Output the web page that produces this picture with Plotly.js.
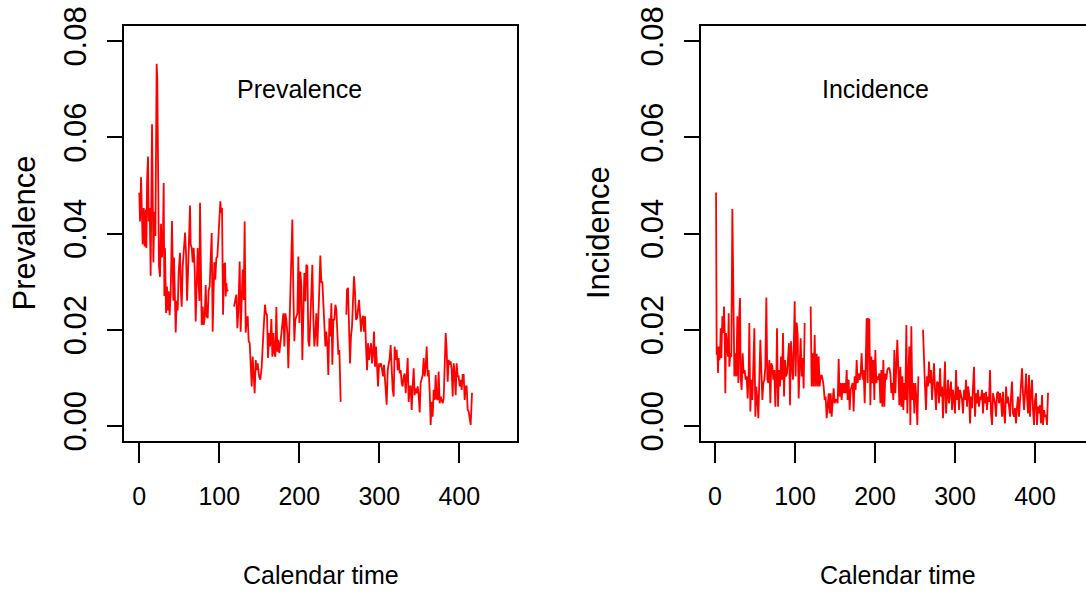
<!DOCTYPE html>
<html>
<head>
<meta charset="utf-8">
<script src="https://cdn.plot.ly/plotly-3.0.1.min.js"></script>
<style>
  html, body { margin: 0; padding: 0; background: #ffffff; }
  #chart { width: 1086px; height: 596px; }
</style>
</head>
<body>
<div id="chart"></div>
<script>
// ---- data ----
const xTicks = [0, 100, 200, 300, 400];
const yTicks = [0, 0.02, 0.04, 0.06, 0.08];
const yTickLabels = ["0.00", "0.02", "0.04", "0.06", "0.08"];

const prevalenceTime = [
  0, 0.9, 2.2, 3.4, 4.2, 5.5, 6.7, 8, 8.8, 9.7, 10.9, 11.7, 13, 14.2, 15.9, 17.6, 18.8, 20.1, 21.7, 22.5,
  23.4, 24.6, 25.9, 27.1, 28.4, 29.6, 30.5, 31.3, 32.1, 33.4, 34.6, 35.5, 36.7, 37.9, 39.2, 40.9, 41.7, 42.6, 43.4, 45.5,
  46.7, 48, 49.2, 50.9, 52.1, 53, 54.2, 55.9, 57.2, 58.4, 59.7, 60.9, 62.1, 63.4, 64.2, 65.5, 66.7, 68, 69.2, 70.5,
  71.7, 73, 74.2, 75.1, 75.9, 77.1, 78, 79.2, 80.5, 81.7, 83, 84.2, 85.5, 86.7, 88, 89.2, 90.5, 91.7, 93, 93.8,
  95, 96.3, 97.6, 98.8, 100, 101.3, 102.6, 103.4, 104.7, 105.9, 107.2, 108, 108.8, 109.7, 110.9,
  114.5,
  118.4, 119.7, 121.3, 122.6, 123.8, 125.5, 126.7, 128, 129.2, 130.5, 131.7, 133, 134.2, 135.5, 136.7, 138, 139.2, 140.5,
  141.7, 143, 144.2, 145.5, 146.7, 148, 149.7, 151.3, 153, 155.1, 157.1, 158.4, 159.6, 160.9, 162.2, 163.4, 165.1, 166.3,
  167.6, 168.8, 170.1, 171.3, 172.6, 173.8, 175.1, 176.4, 177.6, 178.8, 180.1, 181.3, 182.6, 183.8, 185.1, 186.3, 187.6,
  188.8, 190.1, 191.3, 192.6, 193.8, 195.1, 196.3, 197.6, 198.8, 200.1, 201.3, 202.6, 203.8, 205.1, 206.3, 207.6, 208.8,
  210.1, 211.3, 212.6, 213.8, 215.1, 216.3, 217.6, 218.8, 220.1, 221.3, 222.6, 223.8, 225.1, 226.3, 227.6, 228.8, 230.1,
  231.3, 232.6, 233.8, 235.1, 236.3, 237.6, 238.8, 240.1, 241.3, 242.6, 243.8, 245.1, 246.3, 247.6, 248.8, 250.1, 251.7,
  255,
  258.8, 259.6, 260.9, 262.1, 263.4, 264.6, 265.9, 267.1, 268.4, 269.7, 270.9, 272.2, 273.4, 274.7, 275.9, 277.2, 278.4,
  279.7, 280.9, 282.2, 283.4, 284.7, 285.9, 287.2, 288.4, 289.7, 290.9, 292.2, 293.4, 294.7, 295.9, 297.2, 298.4, 299.7,
  300.9, 302.2, 303.4, 304.7, 305.9, 307.6, 309.2, 310.5, 311.7, 313, 314.2, 315.5, 316.7, 318, 319.2, 320.5, 321.7, 323,
  324.2, 325.5, 326.7, 328, 329.2, 330.5, 331.7, 333, 334.2, 335.5, 336.7, 338, 339.2, 340.5, 341.7, 343, 344.2, 345.5,
  346.7, 348, 349.2, 350.5, 351.7, 353, 354.2, 355.5, 356.7, 358, 359.2, 360.5, 361.7, 363, 364.2, 365.5, 366.7, 368,
  369.2, 370.5, 371.7, 373, 374.2, 375.5, 376.7, 378, 379.2, 380.5, 381.7, 383, 384.2, 385.5, 386.7, 388, 389.2, 390.5,
  391.7, 393, 394.2, 395.5, 396.7, 398, 399.2, 400.5, 401.7, 403, 404.2, 405.5, 406.7, 408, 409.2, 410.5, 411.7, 413,
  414.2, 415.9
];
const prevalence = [
  0.0485, 0.0425, 0.0517, 0.040, 0.0377, 0.0453, 0.0373, 0.045, 0.037, 0.0509, 0.056, 0.0425, 0.0453, 0.0312, 0.0627, 0.034, 0.0445, 0.0395, 0.0753, 0.072,
  0.045, 0.0332, 0.031, 0.042, 0.035, 0.040, 0.0505, 0.027, 0.037, 0.0235, 0.029, 0.024, 0.028, 0.023, 0.0275, 0.0426, 0.034, 0.026, 0.035, 0.0194,
  0.026, 0.024, 0.032, 0.036, 0.0276, 0.0248, 0.033, 0.0377, 0.0402, 0.036, 0.026, 0.0318, 0.0377, 0.0458, 0.0377, 0.037, 0.034, 0.037, 0.033, 0.0217,
  0.029, 0.037, 0.0297, 0.026, 0.0464, 0.0276, 0.021, 0.0248, 0.021, 0.0224, 0.0293, 0.0228, 0.0224, 0.0283, 0.029, 0.0346, 0.0401, 0.0196, 0.0297, 0.034,
  0.0304, 0.0349, 0.0352, 0.0401, 0.0436, 0.0467, 0.0443, 0.0453, 0.0231, 0.0335, 0.0339, 0.0269, 0.0297, 0.028, 0.0283,
  null,
  0.0248, 0.0259, 0.0273, 0.0203, 0.0238, 0.0342, 0.0196, 0.0262, 0.0325, 0.0262, 0.0425, 0.0194, 0.0221, 0.0228, 0.0176, 0.0172, 0.0137, 0.0082,
  0.0144, 0.0109, 0.0068, 0.0137, 0.0116, 0.013, 0.0103, 0.0096, 0.0123, 0.0193, 0.0252, 0.0234, 0.0231, 0.0141, 0.0193, 0.0165, 0.0222, 0.0144,
  0.0193, 0.0151, 0.0144, 0.0247, 0.0154, 0.0179, 0.0151, 0.0172, 0.0193, 0.021, 0.0234, 0.0165, 0.0234, 0.0221, 0.0193, 0.012, 0.0193,
  0.0262, 0.036, 0.0429, 0.0276, 0.0176, 0.0221, 0.0228, 0.0234, 0.0352, 0.0214, 0.0321, 0.029, 0.0137, 0.0228, 0.0318, 0.0259, 0.0335,
  0.0332, 0.0176, 0.0165, 0.0221, 0.0283, 0.0335, 0.0221, 0.0165, 0.0193, 0.0234, 0.0165, 0.0248, 0.029, 0.0354, 0.0297, 0.03, 0.0241,
  0.0193, 0.0165, 0.0196, 0.0165, 0.0106, 0.0224, 0.0186, 0.0255, 0.0127, 0.0221, 0.0221, 0.0252, 0.0241, 0.02, 0.0148, 0.0158, 0.005,
  null,
  0.0231, 0.0283, 0.0287, 0.0193, 0.013, 0.0186, 0.0207, 0.0259, 0.0311, 0.0276, 0.0221, 0.0224, 0.0248, 0.0262, 0.0231, 0.0196, 0.0221,
  0.0229, 0.0196, 0.0228, 0.0165, 0.0116, 0.0172, 0.0137, 0.0158, 0.0172, 0.013, 0.0151, 0.0196, 0.0123, 0.0165, 0.0103, 0.0082, 0.013,
  0.0123, 0.013, 0.0116, 0.0103, 0.0127, 0.0089, 0.0044, 0.0116, 0.013, 0.0141, 0.0168, 0.0096, 0.0075, 0.0061, 0.0165, 0.0137, 0.0158, 0.0116,
  0.0141, 0.0109, 0.0116, 0.0089, 0.0082, 0.0103, 0.0109, 0.0068, 0.0096, 0.0141, 0.005, 0.0082, 0.0082, 0.0033, 0.0082, 0.012, 0.0064, 0.0078,
  0.0068, 0.0082, 0.0064, 0.0028, 0.0089, 0.0099, 0.0106, 0.0141, 0.0103, 0.0123, 0.0165, 0.0103, 0.0116, 0.0071, 0.0002, 0.005, 0.0019, 0.0075,
  0.0054, 0.0106, 0.0057, 0.0054, 0.0113, 0.0047, 0.0061, 0.0054, 0.0047, 0.0057, 0.013, 0.0193, 0.0158, 0.0092, 0.0137, 0.0127, 0.0134, 0.0116,
  0.0061, 0.013, 0.0109, 0.0064, 0.013, 0.0103, 0.0103, 0.0082, 0.0096, 0.0075, 0.0106, 0.0106, 0.0054, 0.0082, 0.0082, 0.0033, 0.003, 0.0019,
  0.0002, 0.0069
];

const incidenceTime = [
  1.3, 2.1, 2.9, 3.8, 4.6, 5.4, 6.3, 7.1, 7.9, 9.2, 10.4, 11.3, 12.1, 12.9, 13.8, 15, 16.3, 17.1, 17.9, 19.2,
  20.4, 21.7, 22.9, 24.2, 25.4, 26.7, 27.9, 29.2, 30.4, 31.3, 32.1, 33.3, 34.6, 35.8, 37.1, 38.3, 39.6, 40.8, 42.1, 42.9,
  44.2, 45.4, 46.7, 47.9, 49.2, 50.4, 51.7, 52.9, 54.2, 55.4, 56.7, 57.9, 59.2, 60.4, 61.7, 62.9, 64.2, 65.4, 66.7, 67.9,
  69.2, 70.4, 71.7, 72.9, 74.2, 75.4, 76.7, 77.5, 78.8, 80, 81.3, 82.5, 83.8, 85, 86.3, 87.5, 88.8, 90, 91.3, 92.5,
  93.8, 95, 96.3, 97.5, 98.8, 99.6, 100.8, 102.1, 103.3, 104.6, 105.8, 107.1, 108.3, 109.6, 110.8, 112.1,
  116,
  119.6, 120.8, 122.1, 123.3, 124.6, 125.8, 127.1, 128.3, 129.6, 130.8, 132.1, 133.3, 134.6, 135.8, 137.1, 138.3, 139.6, 140.8,
  142.1, 143.3, 144.6, 145.8, 147.1, 148.3, 149.6, 150.8, 152.1, 153.3, 154.6, 155.8, 157.1, 158.3, 159.6, 160.8, 162.1, 163.3,
  164.6, 165.8, 167.1, 168.3, 169.6, 170.8, 172.1, 173.3, 174.6, 175.8, 177.1, 178.3, 179.6, 180.8, 182.1, 183.3, 184.6, 185.8,
  187.1, 188.3, 189.6, 190.8, 191.7, 192.9, 194.2, 195.4, 196.7, 197.9, 199.2, 200.4, 201.7, 202.9, 204.2, 205.4, 206.7, 207.9,
  209.2, 210.4, 211.7, 212.9, 214.2, 215.4, 216.7, 217.9, 219.2, 220.4, 221.7, 222.9, 224.2, 225.4, 226.7, 227.9, 229.2, 230.4,
  231.7, 232.9, 234.2, 235.4, 236.7, 237.9, 239.2, 240.4, 241.7, 242.9, 244.2, 245.4, 246.7, 247.9, 249.2, 250.4, 251.7, 252.9,
  254.2,
  257,
  260, 261.3, 262.5, 263.8, 265, 266.3, 267.5, 268.8, 270, 271.3, 272.5, 273.8, 275, 276.3, 277.5, 278.8, 280, 281.3,
  282.5, 283.8, 285, 286.3, 287.5, 288.8, 290, 291.3, 292.5, 293.8, 295, 296.3, 297.5, 298.8, 300, 301.3, 302.5, 303.8,
  305, 306.3, 307.5, 308.8, 310, 311.3, 312.5, 313.8, 315, 316.3, 317.5, 318.8, 320, 321.3, 322.5, 323.8, 325, 326.3,
  327.5, 328.8, 330, 331.3, 332.5, 333.8, 335, 336.3, 337.5, 338.8, 340, 341.3, 342.5, 343.8, 345, 346.3, 347.5, 348.8,
  350, 351.3, 352.5, 353.8, 355, 356.3, 357.5, 358.8, 360, 361.3, 362.5, 363.8, 365, 366.3, 367.5, 368.8, 370, 371.3,
  372.5, 373.8, 375, 376.3, 377.5, 378.8, 380, 381.3, 382.5, 383.8, 385, 386.3, 387.5, 388.8, 390, 391.3, 392.5, 393.8,
  395, 396.3, 397.5, 398.8, 400, 401.3, 402.5, 403.8, 405, 406.3, 407.5, 408.8, 410, 411.3, 412.5, 413.8, 415, 416.3
];
const incidence = [
  0.0485, 0.0148, 0.0165, 0.011, 0.0165, 0.0137, 0.0144, 0.0203, 0.0141, 0.0228, 0.0193, 0.0248, 0.0193, 0.0068, 0.0193, 0.0165, 0.0144, 0.0234, 0.0123, 0.0151,
  0.0144, 0.0451, 0.0262, 0.0103, 0.0151, 0.0103, 0.0228, 0.0089, 0.0234, 0.0266, 0.0099, 0.0075, 0.0151, 0.0109, 0.0116, 0.0096, 0.0103, 0.0057, 0.0109, 0.0214,
  0.003, 0.0096, 0.0054, 0.0109, 0.0203, 0.0019, 0.0082, 0.0054, 0.0016, 0.0096, 0.0179, 0.0116, 0.0054, 0.0089, 0.0096, 0.0123, 0.0267, 0.0096, 0.0089, 0.0137,
  0.0047, 0.013, 0.0123, 0.0096, 0.0116, 0.004, 0.0109, 0.0203, 0.004, 0.0116, 0.0082, 0.0144, 0.0096, 0.0193, 0.0061, 0.0137, 0.0103, 0.0109, 0.0151, 0.0172,
  0.0043, 0.0176, 0.0123, 0.0096, 0.0193, 0.0259, 0.0103, 0.0215, 0.0193, 0.0057, 0.0123, 0.0182, 0.0103, 0.0141, 0.0078, 0.0214,
  null,
  0.0248, 0.0082, 0.0151, 0.0082, 0.0189, 0.0082, 0.015, 0.0082, 0.0144, 0.0082, 0.0103, 0.0106, 0.0096, 0.0082, 0.0054, 0.0061, 0.0016, 0.0054,
  0.0068, 0.0026, 0.0068, 0.0019, 0.0061, 0.0078, 0.0047, 0.0054, 0.0054, 0.0047, 0.0139, 0.0061, 0.0089, 0.0054, 0.0089, 0.0068, 0.0089, 0.0068,
  0.0116, 0.0054, 0.0096, 0.0033, 0.0075, 0.0082, 0.0089, 0.003, 0.0103, 0.0075, 0.0137, 0.0089, 0.0109, 0.0096, 0.0109, 0.0151, 0.0096, 0.0116,
  0.0047, 0.0123, 0.0224, 0.0089, 0.0222, 0.0221, 0.0043, 0.0144, 0.0089, 0.0137, 0.0054, 0.0158, 0.0089, 0.0103, 0.0096, 0.0109, 0.0047, 0.0116,
  0.004, 0.0137, 0.004, 0.0109, 0.0096, 0.0116, 0.012, 0.012, 0.0109, 0.0068, 0.0089, 0.0054, 0.0158, 0.0068, 0.0137, 0.0179, 0.0116, 0.0043,
  0.0123, 0.004, 0.0103, 0.0033, 0.0089, 0.0054, 0.021, 0.0026, 0.0103, 0.0165, 0.0002, 0.0207, 0.0054, 0.0089, 0.0026, 0.0089, 0.0061, 0.0002,
  0.0103,
  null,
  0.02, 0.0123, 0.0082, 0.0033, 0.0103, 0.0082, 0.0134, 0.0089, 0.0116, 0.0054, 0.0103, 0.013, 0.0075, 0.0033, 0.0092, 0.0089, 0.0047, 0.012,
  0.0061, 0.0082, 0.0016, 0.0109, 0.0134, 0.0026, 0.0075, 0.0096, 0.0047, 0.0075, 0.0092, 0.0033, 0.0075, 0.0054, 0.0026, 0.0116, 0.0054, 0.0082,
  0.0033, 0.0075, 0.0061, 0.0054, 0.0026, 0.0075, 0.0054, 0.0096, 0.004, 0.0082, 0.0068, 0.0005, 0.0061, 0.0037, 0.0082, 0.0123, 0.0019, 0.0068,
  0.0047, 0.0075, 0.004, 0.0061, 0.0054, 0.0075, 0.0026, 0.0068, 0.0047, 0.0071, 0.0033, 0.0061, 0.005, 0.0116, 0.0026, 0.0002, 0.0068, 0.0054,
  0.0047, 0.0019, 0.0068, 0.0071, 0.0047, 0.0068, 0.0054, 0.0019, 0.0071, 0.0026, 0.0005, 0.0082, 0.0047, 0.0061, 0.0043, 0.0019, 0.0061, 0.0092,
  0.0026, 0.0019, 0.0037, 0.0005, 0.004, 0.0061, 0.0019, 0.0047, 0.0082, 0.012, 0.0068, 0.0033, 0.0068, 0.0109, 0.0061, 0.0026, 0.0106, 0.0019,
  0.0068, 0.0096, 0.0033, 0.0002, 0.0054, 0.0068, 0.0002, 0.004, 0.0026, 0.0043, 0.0005, 0.0064, 0.0002, 0.0033, 0.0019, 0.0023, 0.0002, 0.0069
];

const panelTexts = ["Prevalence", "Incidence"];
const xTitle = "Calendar time";

// ---- styling ----
const W = 1086, H = 596;
const horizFont = "Liberation Sans, Arial, Helvetica, sans-serif";
const rotFont = "Liberation Sans, Arial, Helvetica, sans-serif";
const black = "#000000";
const px = v => v / W;
const py = v => 1 - v / H;

function xAxis(domain, range, mirror, anchor) {
  return {
    domain: domain, range: range, anchor: anchor,
    tickmode: "array", tickvals: xTicks, ticktext: xTicks.map(String),
    ticks: "outside", ticklen: 20, tickwidth: 2, tickcolor: black,
    ticklabelstandoff: 12,
    showline: true, linewidth: 2, linecolor: black, mirror: mirror,
    showgrid: false, zeroline: false,
    tickfont: { family: horizFont, size: 25, color: black },
    fixedrange: true
  };
}
function yAxis(domain, mirror, anchor) {
  return {
    domain: domain, range: [-0.0032, 0.0832], anchor: anchor,
    tickmode: "array", tickvals: yTicks, ticktext: yTickLabels,
    tickangle: -90,
    ticks: "outside", ticklen: 15, tickwidth: 2, tickcolor: black,
    ticklabelstandoff: 9,
    showline: true, linewidth: 2, linecolor: black, mirror: mirror,
    showgrid: false, zeroline: false,
    tickfont: { family: rotFont, size: 31, color: black },
    fixedrange: true
  };
}

const lineStyle = { color: "#ff0000", width: 1.8 };
const traces = [
  { x: prevalenceTime, y: prevalence, type: "scatter", mode: "lines", line: lineStyle, xaxis: "x", yaxis: "y", connectgaps: false, hoverinfo: "skip" },
  { x: incidenceTime, y: incidence, type: "scatter", mode: "lines", line: lineStyle, xaxis: "x2", yaxis: "y2", connectgaps: false, hoverinfo: "skip" }
];

const yDom = [py(441.3), py(25.7)];
const layout = {
  width: W, height: H,
  margin: { l: 0, r: 0, t: 0, b: 0, pad: 0 },
  paper_bgcolor: "#ffffff", plot_bgcolor: "#ffffff",
  showlegend: false,
  xaxis: xAxis([px(124.3), px(517.3)], [-18.75, 472.5], true, "y"),
  yaxis: yAxis(yDom, true, "x"),
  xaxis2: xAxis([px(701.2), 1], [-17.25, 463.75], true, "y2"),
  yaxis2: yAxis(yDom, false, "x2"),
  annotations: [
    { text: panelTexts[0], x: 200, y: 0.07, xref: "x", yref: "y", showarrow: false,
      font: { family: horizFont, size: 25, color: black }, xanchor: "center", yanchor: "middle" },
    { text: panelTexts[1], x: 200, y: 0.07, xref: "x2", yref: "y2", showarrow: false,
      font: { family: horizFont, size: 25, color: black }, xanchor: "center", yanchor: "middle" },
    { text: xTitle, x: px(320.8), y: py(575), xref: "paper", yref: "paper", showarrow: false,
      font: { family: horizFont, size: 25, color: black }, xanchor: "center", yanchor: "middle" },
    { text: xTitle, x: px(897.5), y: py(575), xref: "paper", yref: "paper", showarrow: false,
      font: { family: horizFont, size: 25, color: black }, xanchor: "center", yanchor: "middle" },
    { text: panelTexts[0], x: px(23.5), y: py(233), xref: "paper", yref: "paper", showarrow: false, textangle: -90,
      font: { family: rotFont, size: 31, color: black }, xanchor: "center", yanchor: "middle" },
    { text: panelTexts[1], x: px(598), y: py(233), xref: "paper", yref: "paper", showarrow: false, textangle: -90,
      font: { family: rotFont, size: 31, color: black }, xanchor: "center", yanchor: "middle" }
  ]
};

Plotly.newPlot("chart", traces, layout, { displayModeBar: false, staticPlot: true });
</script>
</body>
</html>
